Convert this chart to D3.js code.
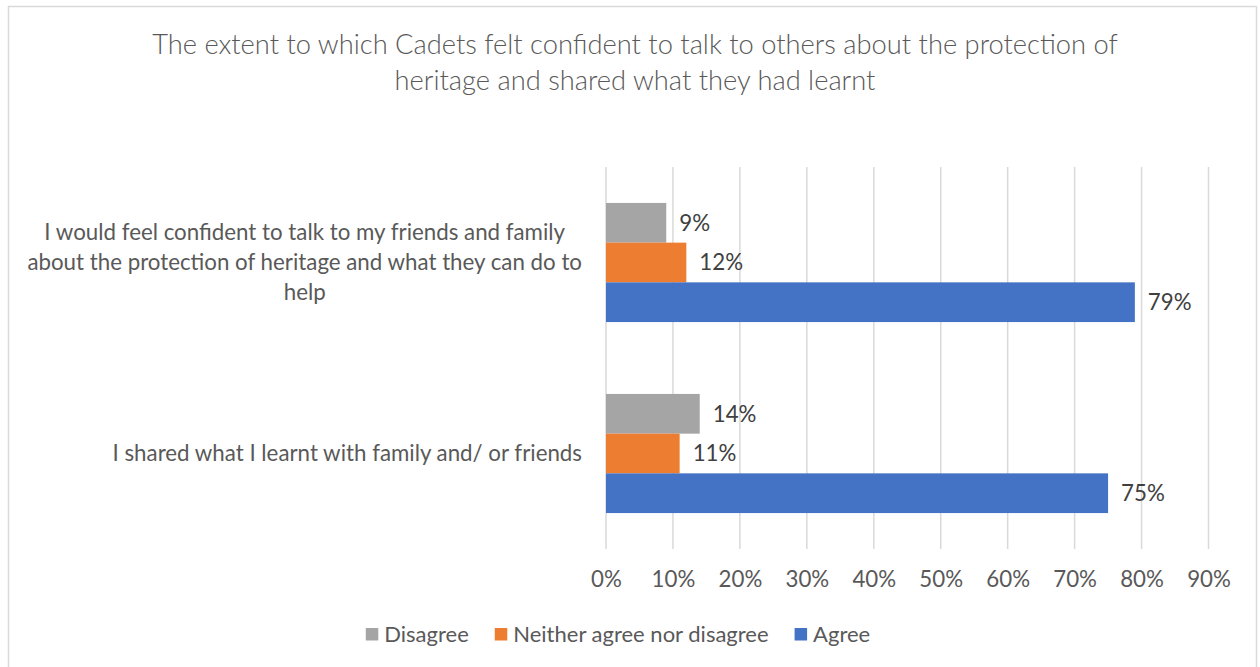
<!DOCTYPE html>
<html>
<head>
<meta charset="utf-8">
<script src="https://cdn.jsdelivr.net/npm/d3@7"></script>
<style>
  html, body { margin: 0; padding: 0; background: #fff; }
  svg { display: block; }
  text { font-family: Lato, "Open Sans", sans-serif; }
</style>
</head>
<body>
<svg id="chart" width="1260" height="667"></svg>
<script>
// Survey statements (top to bottom)
const categories = [
  ["I would feel confident to talk to my friends and family",
   "about the protection of heritage and what they can do to",
   "help"],
  ["I shared what I learnt with family and/ or friends"]
];
const seriesNames = ["Disagree", "Neither agree nor disagree", "Agree"];
const seriesColors = ["#A5A5A5", "#ED7D31", "#4472C4"];
// Share of responses per statement, in series order
const disagree = [0.09, 0.14];
const neither = [0.12, 0.11];
const agree = [0.79, 0.75];
const tickValues = [0, 0.1, 0.2, 0.3, 0.4, 0.5, 0.6, 0.7, 0.8, 0.9];
const titleLines = [
  "The extent to which Cadets felt confident to talk to others about the protection of",
  "heritage and shared what they had learnt"
];

const series = [disagree, neither, agree];
const svg = d3.select("#chart");

// Chart frame
svg.append("rect")
  .attr("x", 8.5).attr("y", 6.5)
  .attr("width", 1248).attr("height", 670)
  .attr("fill", "#fff").attr("stroke", "#D9D9D9").attr("stroke-width", 1.5);

// Title
svg.append("g").selectAll("text")
  .data(titleLines)
  .join("text")
  .attr("x", 635)
  .attr("y", (d, i) => 53.5 + i * 36.5)
  .attr("text-anchor", "middle")
  .attr("fill", "#595959")
  .attr("font-size", 27.3)
  .attr("font-weight", 300)
  .text(d => d);

const plot = { left: 606, right: 1208.5, top: 167, bottom: 549 };

const x = d3.scaleLinear().domain([0, 0.9]).range([plot.left, plot.right]);
const y0 = d3.scaleBand().domain(d3.range(categories.length)).range([plot.top, plot.bottom]).padding(0);
const y1 = d3.scaleBand().domain(d3.range(seriesNames.length)).range([0, y0.bandwidth()])
  .paddingInner(0).paddingOuter(0.905);

// Vertical gridlines
svg.append("g").selectAll("line")
  .data(tickValues)
  .join("line")
  .attr("x1", d => x(d)).attr("x2", d => x(d))
  .attr("y1", plot.top).attr("y2", plot.bottom)
  .attr("stroke", "#D9D9D9").attr("stroke-width", 1.5);

// Bottom axis labels
const xAxis = d3.axisBottom(x).tickValues(tickValues).tickFormat(d3.format(".0%")).tickSize(0).tickPadding(0);
const ax = svg.append("g").attr("transform", `translate(0,${plot.bottom})`).call(xAxis);
ax.select(".domain").remove();
ax.selectAll("text")
  .attr("dy", null)
  .attr("y", 37.5)
  .attr("fill", "#595959")
  .attr("font-size", 22.3)
  .attr("font-family", "Lato, sans-serif");

// Bars and value labels
const groups = svg.append("g").selectAll("g")
  .data(categories.map((c, ci) => series.map((s, si) => ({ ci, si, v: s[ci] }))))
  .join("g")
  .attr("transform", (d, i) => `translate(0,${y0(i)})`);

groups.selectAll("rect")
  .data(d => d)
  .join("rect")
  .attr("x", x(0))
  .attr("y", d => y1(d.si))
  .attr("width", d => x(d.v) - x(0))
  .attr("height", y1.bandwidth())
  .attr("fill", d => seriesColors[d.si]);

groups.selectAll("text")
  .data(d => d)
  .join("text")
  .attr("x", d => x(d.v) + 13)
  .attr("y", d => y1(d.si) + y1.bandwidth() / 2)
  .attr("dy", "0.35em")
  .attr("fill", "#404040")
  .attr("font-size", 22.3)
  .text(d => d3.format(".0%")(d.v));

// Category labels: block right-aligned to the plot, lines centred within the block
const catG = svg.append("g");
categories.forEach((lines, i) => {
  const g = catG.append("g");
  const lineH = 30;
  const cy = y0(i) + y0.bandwidth() / 2;
  const t = g.selectAll("text").data(lines).join("text")
    .attr("fill", "#595959")
    .attr("font-size", 22.3)
    .attr("text-anchor", "middle")
    .attr("y", (d, k) => cy + (k - (lines.length - 1) / 2) * lineH)
    .attr("dy", "0.35em")
    .text(d => d);
  const w = d3.max(t.nodes(), n => n.getComputedTextLength());
  t.attr("x", 582 - w / 2);
});

// Legend
const legend = svg.append("g");
let lx = 0;
seriesNames.forEach((name, i) => {
  const g = legend.append("g");
  g.append("rect").attr("x", 0).attr("y", -6).attr("width", 12.5).attr("height", 12.5).attr("fill", seriesColors[i]);
  const t = g.append("text").attr("x", 18.5).attr("y", 0).attr("dy", "0.35em")
    .attr("fill", "#595959").attr("font-size", 22).text(name);
  const w = 18.5 + t.node().getComputedTextLength();
  g.attr("transform", `translate(${lx},0)`);
  lx += w + 26;
});
const totalW = lx - 26;
legend.attr("transform", `translate(${618 - totalW / 2},634)`);
</script>
</body>
</html>
